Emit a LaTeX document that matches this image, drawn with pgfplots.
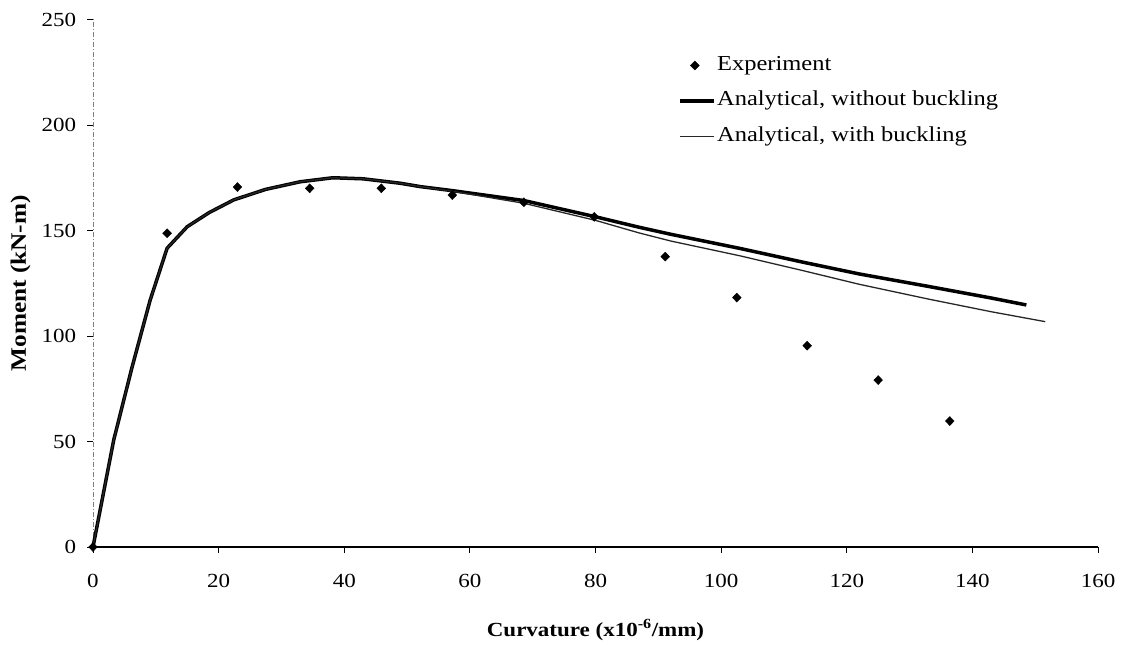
\documentclass[border=0pt]{standalone}
\usepackage{fontspec}
\setmainfont[FakeStretch=1.15]{Liberation Serif}
\usepackage{pgfplots}
\pgfplotsset{compat=1.18}
\pgfplotsset{
  markleg/.style={legend image code/.code={\draw[##1] plot coordinates {(15bp,0bp)};}},
  lineleg/.style={legend image code/.code={\draw[##1] (0bp,0bp) -- (34bp,0bp);}},
}
\begin{document}
\fontsize{20bp}{24bp}\selectfont
\begin{tikzpicture}
\begin{axis}[
  scale only axis,
  width=1005bp, height=527.5bp,
  xmin=0, xmax=160, ymin=0, ymax=250,
  xtick={0,20,...,160}, ytick={0,50,...,250},
  axis lines*=left,
  clip=false,
  x axis line style={black, line width=1.2bp},
  y axis line style={gray, line width=0.6bp, dash pattern=on 5bp off 2bp on 1bp off 2bp},
  tick align=outside,
  major tick length=6bp,
  tick style={black, line width=0.8bp},
  /pgf/number format/assume math mode=true,
  ticklabel style={font=\fontsize{20bp}{24bp}\selectfont},
  xticklabel style={yshift=-14bp},
  yticklabel style={xshift=-4bp},
  xlabel={\textbf{Curvature (x10\textsuperscript{-6}/mm)}},
  ylabel={\textbf{Moment (kN-m)}},
  xlabel style={at={(axis description cs:0.5,-0.157)}, anchor=center,
    font=\fontsize{20bp}{24bp}\selectfont},
  ylabel style={at={(axis description cs:-0.072,0.5)}, anchor=center,
    font=\fontsize{22bp}{26bp}\selectfont},
  legend style={at={(axis description cs:0.582,0.935)}, anchor=north west,
    draw=none, fill=none, inner sep=0pt, row sep=12.5bp,
    nodes={inner sep=1.5bp, text height=15bp, text depth=5bp},
    font=\fontsize{21.3bp}{25bp}\selectfont},
  legend cell align=left,
]
% experiment
\addplot[only marks, mark=diamond*, mark size=4.5bp, mark options={xscale=1.3, black}, markleg]
coordinates {
 (0,0) (11.8,148.7) (23.0,170.6) (34.5,170.0) (45.9,170.0) (57.2,166.8)
 (68.6,163.4) (79.8,156.5) (91.1,137.6) (102.5,118.2) (113.7,95.4)
 (125.0,79.1) (136.4,59.7)
};
\addlegendentry{Experiment}
% without buckling
\addplot[black, line width=3.5bp, line join=round, lineleg]
coordinates {
 (0,0) (3.3,50.7) (6.2,85) (9.1,117) (11.8,141.6) (15,151.8) (18.5,158.5)
 (22.4,164.5) (27.5,169.5) (33,173.1) (38.2,175) (43,174.5) (48.9,172.4)
 (52.1,170.8) (57.2,168.9) (68.6,164.2) (80,156.5) (87,151.5) (92,148.2)
 (103,141.5) (113,135) (122,129.4) (133,123.5) (143,118) (148.6,114.7)
};
\addlegendentry{Analytical, without buckling}
% with buckling
\addplot[black!85, line width=1.3bp, line join=round, lineleg]
coordinates {
 (0,0) (3.3,50.7) (6.2,85) (9.1,117) (11.8,141.6) (15,151.8) (18.5,158.5)
 (22.4,164.5) (27.5,169.5) (33,173.1) (38.2,175) (43,174.5) (48.9,172.4)
 (52.1,170.8) (57.2,168.6) (68.6,162.9) (80,154.8) (87,148.8) (92,145)
 (103,138) (113,131) (122,124.5) (133,117.5) (143,111.5) (151.6,106.8)
};
\addlegendentry{Analytical, with buckling}
\end{axis}
\pgfresetboundingbox
\path[use as bounding box] (-93bp,-98bp) rectangle (1030bp,547bp);
\end{tikzpicture}
\end{document}
